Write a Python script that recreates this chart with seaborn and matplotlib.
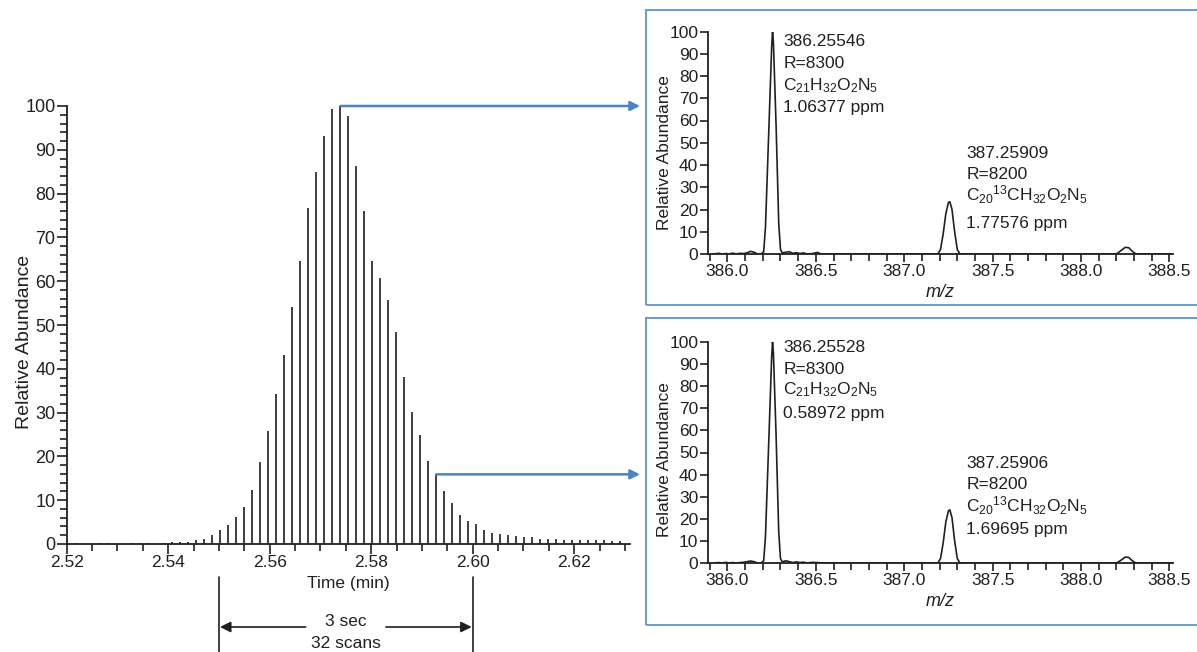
import numpy as np
import matplotlib
matplotlib.use('Agg')
import matplotlib.pyplot as plt
import matplotlib.transforms as mtransforms
from matplotlib.patches import Rectangle
from matplotlib.ticker import MultipleLocator, FormatStrFormatter
import seaborn as sns

# ---- chromatogram (one stick per scan) ----
scan_start = 2.52035   # min, first scan shown
scan_step = 0.001575   # min between scans
abundance = [0.3, 0.3, 0.0, 0.0, 0.3, 0.3, 0.0, 0.0, 0.3, 0.3,
             0.3, 0.0, 0.3, 0.4, 0.5, 0.5, 0.9, 1.2, 2.1, 3.1,
             4.4, 6.1, 8.5, 12.3, 18.7, 25.7, 34.2, 43.1, 54.0, 64.5,
             76.7, 84.9, 93.2, 99.3, 100.0, 97.8, 86.2, 76.1, 64.7, 60.8,
             55.7, 48.3, 38.1, 30.1, 24.8, 18.9, 15.9, 12.1, 9.4, 6.6,
             5.3, 4.5, 3.3, 2.6, 2.3, 2.0, 1.8, 1.7, 1.5, 1.2,
             1.1, 1.1, 0.9, 0.9, 0.9, 0.9, 0.9, 0.9, 0.7, 0.7]
scan_times = scan_start + scan_step * np.arange(len(abundance))
apex_scan = 34
tail_scan = 46

# ---- mass spectra (profile) ----
mz_top = [385.92, 385.95, 385.97, 385.99, 386.01, 386.03, 386.05, 386.07, 386.09, 386.11,
          386.13, 386.15, 386.17, 386.19, 386.205, 386.215, 386.235, 386.25, 386.255, 386.26,
          386.275, 386.29, 386.30, 386.31, 386.33, 386.35, 386.37, 386.39, 386.41, 386.43,
          386.45, 386.48, 386.51, 386.53, 386.56, 387.19, 387.205, 387.22, 387.235, 387.25,
          387.258, 387.27, 387.285, 387.30, 387.315, 388.20, 388.225, 388.25, 388.27, 388.29,
          388.31, 388.52]
int_top = [0.0, 0.3, 0.0, 0.2, 0.0, 0.4, 0.0, 0.3, 0.2, 0.5,
           1.2, 0.8, 0.0, 0.0, 1.0, 12.0, 58.0, 93.0, 100.0, 95.0,
           58.0, 14.0, 2.0, 0.5, 0.8, 1.0, 0.3, 0.6, 0.2, 0.5,
           0.0, 0.2, 0.7, 0.0, 0.0, 0.0, 2.0, 9.0, 18.0, 23.2,
           23.5, 20.0, 10.0, 2.0, 0.0, 0.0, 1.5, 3.0, 2.8, 1.2,
           0.0, 0.0]

mz_bot = [385.92, 385.95, 385.97, 385.99, 386.01, 386.03, 386.05, 386.07, 386.09, 386.11,
          386.13, 386.15, 386.17, 386.19, 386.205, 386.215, 386.235, 386.25, 386.255, 386.26,
          386.275, 386.29, 386.30, 386.31, 386.33, 386.35, 386.37, 386.39, 386.41, 386.43,
          386.45, 386.48, 386.51, 386.53, 386.56, 387.19, 387.205, 387.22, 387.235, 387.25,
          387.258, 387.27, 387.285, 387.30, 387.315, 388.20, 388.225, 388.25, 388.27, 388.29,
          388.31, 388.52]
int_bot = [0.0, 0.2, 0.0, 0.3, 0.0, 0.2, 0.0, 0.2, 0.3, 0.6,
           0.9, 0.6, 0.0, 0.0, 1.0, 12.0, 58.0, 93.0, 100.0, 95.0,
           58.0, 14.0, 2.0, 0.5, 1.0, 0.6, 0.2, 0.5, 0.2, 0.4,
           0.0, 0.3, 0.2, 0.0, 0.0, 0.0, 2.0, 9.0, 18.5, 23.7,
           24.0, 20.5, 10.0, 2.0, 0.0, 0.0, 1.2, 2.7, 2.5, 1.0,
           0.0, 0.0]

labels_top = [['386.25546', 'R=8300', r'C$_{21}$H$_{32}$O$_2$N$_5$', '1.06377 ppm'],
              ['387.25909', 'R=8200', r'C$_{20}$$^{13}$CH$_{32}$O$_2$N$_5$', '1.77576 ppm']]
labels_bot = [['386.25528', 'R=8300', r'C$_{21}$H$_{32}$O$_2$N$_5$', '0.58972 ppm'],
              ['387.25906', 'R=8200', r'C$_{20}$$^{13}$CH$_{32}$O$_2$N$_5$', '1.69695 ppm']]

ink = '#231f20'
blue = '#4a85c3'
frame = '#6b9bd0'

sns.set_style('ticks')
plt.rcParams['font.family'] = ['Liberation Sans', 'DejaVu Sans']
plt.rcParams['mathtext.default'] = 'regular'
plt.rcParams['text.color'] = ink
plt.rcParams['axes.labelcolor'] = ink
plt.rcParams['xtick.color'] = ink
plt.rcParams['ytick.color'] = ink
plt.rcParams['axes.edgecolor'] = ink

W, H = 1197, 652
fig = plt.figure(figsize=(W / 100, H / 100), dpi=100)


def px_box(x0, x1, y_top, y_bot):
    return [x0 / W, (H - y_bot) / H, (x1 - x0) / W, (y_bot - y_top) / H]


# ---------- left: chromatogram ----------
ax = fig.add_axes(px_box(66.7, 630, 106, 544))
ax.vlines(scan_times, 0, abundance, color=ink, lw=1.2)
ax.set_xlim(2.52, 2.631)
ax.set_ylim(0, 100)
ax.xaxis.set_major_locator(MultipleLocator(0.02))
ax.xaxis.set_minor_locator(MultipleLocator(0.005))
ax.xaxis.set_major_formatter(FormatStrFormatter('%.2f'))
ax.yaxis.set_major_locator(MultipleLocator(10))
ax.yaxis.set_minor_locator(MultipleLocator(2))
ax.tick_params(which='major', length=7, width=1.2, pad=1)
ax.tick_params(which='minor', length=5, width=1.2)
ax.tick_params(axis='x', labelsize=12.5)
ax.tick_params(axis='y', labelsize=13)
for s in ['left', 'bottom']:
    ax.spines[s].set_linewidth(1.3)
sns.despine(ax=ax)
ax.set_xlabel('Time (min)', fontsize=12.5, labelpad=4)
ax.set_ylabel('Relative Abundance', fontsize=14)
ax.yaxis.set_label_coords(-0.060, 0.461)

# 3 sec / 32 scans width marker
trans = mtransforms.blended_transform_factory(ax.transData, fig.transFigure)
for xv in [2.55, 2.60]:
    ax.plot([xv, xv], [0, (H - 577) / H], transform=trans, color=ink, lw=1.2, clip_on=False)
y_arr = (H - 627) / H
ax.annotate('', xy=(2.5502, y_arr), xycoords=trans, xytext=(2.5671, y_arr), textcoords=trans,
            arrowprops=dict(arrowstyle='-|>', color=ink, lw=1.2, shrinkA=0, shrinkB=0,
                            mutation_scale=16), annotation_clip=False)
ax.annotate('', xy=(2.5998, y_arr), xycoords=trans, xytext=(2.5829, y_arr), textcoords=trans,
            arrowprops=dict(arrowstyle='-|>', color=ink, lw=1.2, shrinkA=0, shrinkB=0,
                            mutation_scale=16), annotation_clip=False)
ax.text(2.575, (H - 622) / H, '3 sec', transform=trans, ha='center', va='center', fontsize=12.5)
ax.text(2.575, (H - 643) / H, '32 scans', transform=trans, ha='center', va='center', fontsize=12.5)

# ---------- right: mass spectra ----------
frames = [(10, 305), (318, 625)]
for y_top, y_bot in frames:
    fig.add_artist(Rectangle((646 / W, (H - y_bot) / H), 1.0, (y_bot - y_top) / H,
                             transform=fig.transFigure, fill=False, edgecolor=frame, lw=1.4))

spectra = [
    (px_box(708, 1173, 31.5, 254), mz_top, int_top, labels_top,
     [[93.3, 83.6, 73.7, 64.0], [43.1, 33.5, 23.8, 11.8]], 0.454),
    (px_box(708, 1173, 342, 563), mz_bot, int_bot, labels_bot,
     [[95.7, 85.3, 76.2, 65.8], [43.2, 33.7, 23.3, 13.3]], 0.466),
]
text_x = [386.316, 387.35]
insets = []
for box, mz, inten, labs, ys, ylab_y in spectra:
    axi = fig.add_axes(box)
    sns.lineplot(x=mz, y=inten, ax=axi, color=ink, lw=1.2)
    axi.set_xlim(385.89, 388.52)
    axi.set_ylim(0, 100)
    axi.xaxis.set_major_locator(MultipleLocator(0.5))
    axi.xaxis.set_minor_locator(MultipleLocator(0.1))
    axi.xaxis.set_major_formatter(FormatStrFormatter('%.1f'))
    axi.yaxis.set_major_locator(MultipleLocator(10))
    axi.tick_params(which='major', length=6, width=1.2, labelsize=12.5, pad=1)
    axi.tick_params(which='minor', length=5, width=1.2)
    for s in ['left', 'bottom']:
        axi.spines[s].set_linewidth(1.3)
    sns.despine(ax=axi)
    axi.set_xlabel('m/z', fontsize=13, fontstyle='italic', labelpad=4)
    axi.set_ylabel('Relative Abundance', fontsize=12.5)
    axi.yaxis.set_label_coords(-0.077, ylab_y)
    for xt, group, yy in zip(text_x, labs, ys):
        for line, yv in zip(group, yy):
            axi.text(xt, yv, line, fontsize=12.5, va='baseline', ha='left')
    insets.append(axi)

# blue arrows from the two scans to their spectra
for idx in [apex_scan, tail_scan]:
    ax.annotate('', xy=(640 / W, abundance[idx]), xycoords=('figure fraction', 'data'),
                xytext=(scan_times[idx], abundance[idx]), textcoords='data',
                arrowprops=dict(arrowstyle='-|>', color=blue, lw=1.8, shrinkA=0, shrinkB=0,
                                mutation_scale=14), annotation_clip=False)

fig.savefig('out.png', dpi=100)
